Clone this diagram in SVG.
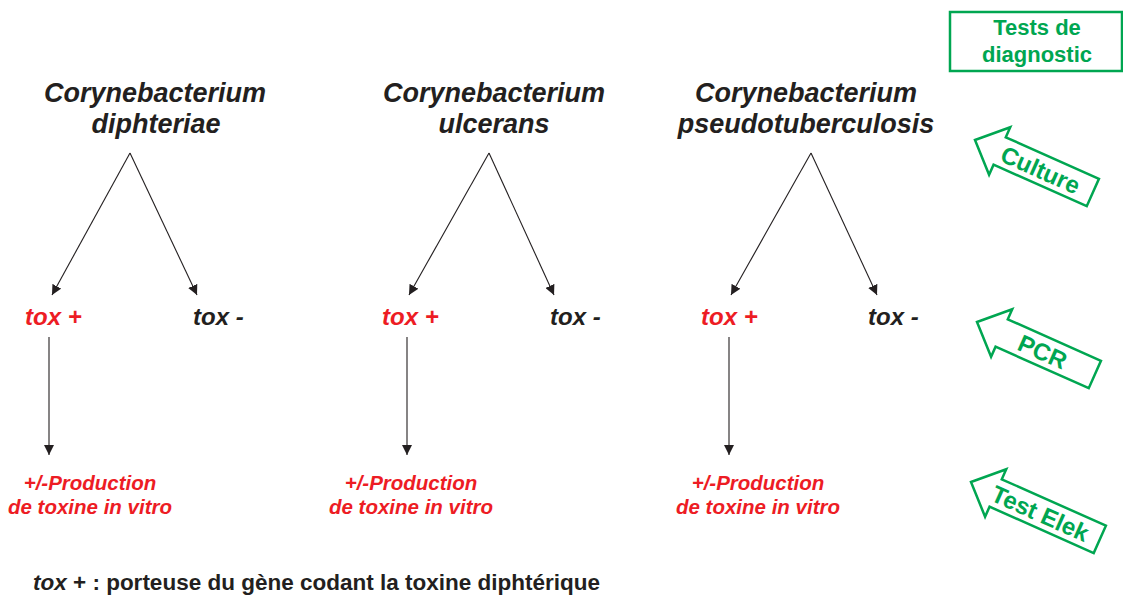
<svg xmlns="http://www.w3.org/2000/svg" width="1123" height="599" viewBox="0 0 1123 599">
<style>
text{font-family:"Liberation Sans",Arial,sans-serif;font-weight:bold}
.title{font-size:27px;font-style:italic;fill:#231f20;text-anchor:middle}
.tox{font-size:24px;font-style:italic}
.pos{fill:#ed1c24}
.neg{fill:#231f20}
.prod{font-size:20.5px;font-style:italic;fill:#ed1c24;text-anchor:middle}
.conn{stroke:#231f20;stroke-width:1.1;fill:none;marker-end:url(#ah)}
.green{fill:none;stroke:#00a651;stroke-width:2.5}
.gtext{fill:#00a651;font-size:22px;text-anchor:middle}
.atext{fill:#00a651;font-size:24px;text-anchor:middle}
.foot{font-size:22.5px;fill:#231f20}
</style>
<defs>
<marker id="ah" viewBox="0 0 10 10" refX="10" refY="5" markerWidth="10" markerHeight="10" markerUnits="userSpaceOnUse" orient="auto">
<path d="M0,0 L10,5 L0,10 Z" fill="#231f20"/>
</marker>
</defs>
<rect width="1123" height="599" fill="#ffffff"/>

<g id="connectors">
<line class="conn" x1="130" y1="153" x2="52" y2="295"/>
<line class="conn" x1="130" y1="153" x2="197" y2="295"/>
<line class="conn" x1="49" y1="337" x2="49" y2="455"/>
<line class="conn" x1="489" y1="153" x2="409" y2="295"/>
<line class="conn" x1="489" y1="153" x2="554" y2="295"/>
<line class="conn" x1="407" y1="337" x2="407" y2="455"/>
<line class="conn" x1="811" y1="153" x2="731" y2="295"/>
<line class="conn" x1="811" y1="153" x2="877" y2="295"/>
<line class="conn" x1="729" y1="337" x2="729" y2="455"/>
</g>

<g id="title1"><text class="title" x="155" y="102">Corynebacterium</text><text class="title" x="156" y="133">diphteriae</text></g>
<g id="title2"><text class="title" x="494" y="102">Corynebacterium</text><text class="title" x="494" y="133">ulcerans</text></g>
<g id="title3"><text class="title" x="806" y="102">Corynebacterium</text><text class="title" x="806" y="133">pseudotuberculosis</text></g>

<g id="toxpos1"><text class="tox pos" x="25" y="325">tox +</text></g>
<g id="toxneg1"><text class="tox neg" x="193" y="325">tox -</text></g>
<g id="toxpos2"><text class="tox pos" x="382" y="325">tox +</text></g>
<g id="toxneg2"><text class="tox neg" x="550" y="325">tox -</text></g>
<g id="toxpos3"><text class="tox pos" x="701" y="325">tox +</text></g>
<g id="toxneg3"><text class="tox neg" x="868" y="325">tox -</text></g>

<g id="prod1"><text class="prod" x="90" y="490">+/-Production</text><text class="prod" x="90" y="514">de toxine in vitro</text></g>
<g id="prod2"><text class="prod" x="411" y="490">+/-Production</text><text class="prod" x="411" y="514">de toxine in vitro</text></g>
<g id="prod3"><text class="prod" x="758" y="490">+/-Production</text><text class="prod" x="758" y="514">de toxine in vitro</text></g>

<g id="tests-box">
<rect class="green" x="950" y="12" width="172" height="59"/>
<text class="gtext" x="1037" y="35">Tests de</text>
<text class="gtext" x="1037" y="62">diagnostic</text>
</g>

<g id="culture" transform="translate(975,140) rotate(24)">
<polygon class="green" points="0,0 27,-26 27,-15 129,-15 129,15 27,15 27,26"/>
<text class="atext" x="72" y="9">Culture</text>
</g>
<g id="pcr" transform="translate(977,322) rotate(24)">
<polygon class="green" points="0,0 27,-26 27,-15 129,-15 129,15 27,15 27,26"/>
<text class="atext" x="72" y="9" font-size="26">PCR</text>
</g>
<g id="elek" transform="translate(971,482) rotate(24)">
<polygon class="green" points="0,0 27,-26 27,-15 141,-15 141,15 27,15 27,26"/>
<text class="atext" x="76" y="9">Test Elek</text>
</g>

<g id="footnote"><text class="foot" x="33" y="590"><tspan font-style="italic">tox</tspan> + : porteuse du gène codant la toxine diphtérique</text></g>
</svg>
